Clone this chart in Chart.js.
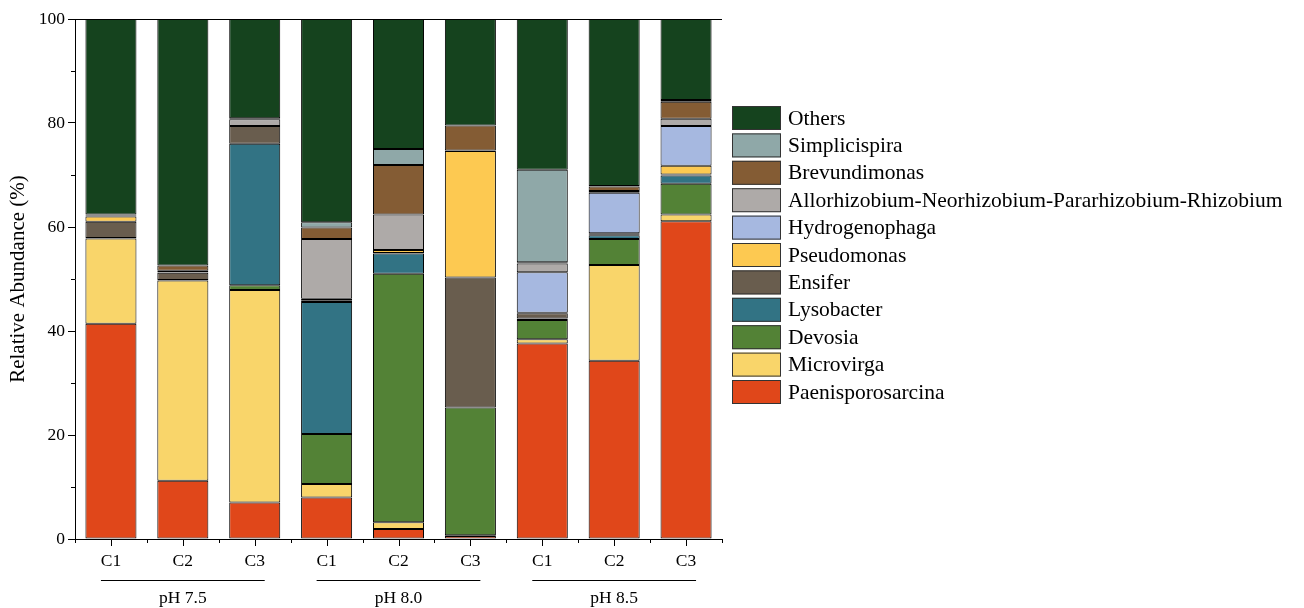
<!DOCTYPE html>
<html>
<head>
<meta charset="utf-8">
<script src="https://cdn.jsdelivr.net/npm/chart.js@4"></script>
<style>
  html, body { margin: 0; padding: 0; background: #fff; }
  #wrap { width: 1304px; height: 608px; }
</style>
</head>
<body>
<div id="wrap"><canvas id="c" width="1304" height="608"></canvas></div>
<script>
// Samples (three cultures at each pH)
const samples = ['C1', 'C2', 'C3', 'C1', 'C2', 'C3', 'C1', 'C2', 'C3'];
const groups = ['pH 7.5', 'pH 8.0', 'pH 8.5'];
const yTicks = [0, 20, 40, 60, 80, 100];

// Relative abundance (%) of each genus, stacked from the bottom up
const paenisporosarcina = [41.4, 11.2, 7.0, 8.0, 1.9, 0.6, 37.6, 34.3, 61.1];
const microvirga        = [16.4, 38.5, 40.9, 2.6, 1.3, 0.1, 0.8, 18.4, 1.3];
const devosia           = [0.1, 0.1, 0.9, 9.6, 47.8, 24.6, 3.7, 5.0, 5.9];
const lysobacter        = [0, 0, 27.2, 25.4, 3.9, 0, 0.3, 0.7, 1.6];
const ensifer           = [3.1, 1.4, 3.4, 0.2, 0.1, 25.0, 1.0, 0.1, 0.2];
const pseudomonas       = [1.0, 0.1, 0, 0.4, 0.6, 24.3, 0.1, 0.3, 1.7];
const hydrogenophaga    = [0.1, 0, 0, 0, 0, 0, 7.8, 7.8, 7.6];
const allorhizobium     = [0.1, 0.3, 1.3, 11.5, 6.8, 0.1, 1.7, 0.3, 1.4];
const brevundimonas     = [0.2, 1.0, 0.2, 2.2, 9.5, 4.8, 0.2, 0.9, 3.3];
const simplicispira     = [0, 0, 0, 1.0, 3.1, 0, 17.8, 0.1, 0.3];
const others            = [37.6, 47.4, 19.1, 39.1, 25.0, 20.5, 29.0, 32.1, 15.6];

const series = [
  { label: 'Paenisporosarcina', data: paenisporosarcina, color: '#e0471a' },
  { label: 'Microvirga', data: microvirga, color: '#f9d56a' },
  { label: 'Devosia', data: devosia, color: '#538236' },
  { label: 'Lysobacter', data: lysobacter, color: '#327384' },
  { label: 'Ensifer', data: ensifer, color: '#695d4e' },
  { label: 'Pseudomonas', data: pseudomonas, color: '#fdc951' },
  { label: 'Hydrogenophaga', data: hydrogenophaga, color: '#a6b8e0' },
  { label: 'Allorhizobium-Neorhizobium-Pararhizobium-Rhizobium', data: allorhizobium, color: '#aeaaa8' },
  { label: 'Brevundimonas', data: brevundimonas, color: '#845c34' },
  { label: 'Simplicispira', data: simplicispira, color: '#8fa8a8' },
  { label: 'Others', data: others, color: '#15431e' }
];

const FONT = "'Liberation Serif', 'Times New Roman', serif";

// Axis ticks, frame, sample-group brackets and the legend
const decorations = {
  id: 'decorations',
  afterDraw(chart) {
    const { ctx, chartArea: a, scales: { x, y } } = chart;
    ctx.save();
    ctx.strokeStyle = '#000';
    ctx.lineWidth = 1;

    // frame: top edge
    ctx.beginPath();
    ctx.moveTo(a.left, a.top + 0.5);
    ctx.lineTo(a.right, a.top + 0.5);
    ctx.stroke();

    // y minor ticks
    for (let v = 10; v < 100; v += 20) {
      const py = Math.round(y.getPixelForValue(v)) + 0.5;
      ctx.beginPath();
      ctx.moveTo(a.left - 4, py);
      ctx.lineTo(a.left, py);
      ctx.stroke();
    }

    // x ticks: major at sample centres, minor at boundaries
    const n = samples.length;
    const step = (a.right - a.left) / n;
    for (let i = 0; i < n; i++) {
      const cx = Math.round(x.getPixelForValue(i)) + 0.5;
      ctx.beginPath();
      ctx.moveTo(cx, a.bottom);
      ctx.lineTo(cx, a.bottom + 7);
      ctx.stroke();
    }
    for (let i = 0; i <= n; i++) {
      const bx = Math.round(a.left + i * step) + 0.5;
      ctx.beginPath();
      ctx.moveTo(bx, a.bottom);
      ctx.lineTo(bx, a.bottom + 4);
      ctx.stroke();
    }

    // group brackets and labels
    ctx.fillStyle = '#000';
    ctx.font = '17.5px ' + FONT;
    ctx.textAlign = 'center';
    ctx.textBaseline = 'middle';
    groups.forEach((g, gi) => {
      const x0 = x.getPixelForValue(gi * 3) - 10;
      const x1 = x.getPixelForValue(gi * 3 + 2) + 10;
      ctx.beginPath();
      ctx.moveTo(x0, 580.5);
      ctx.lineTo(x1, 580.5);
      ctx.stroke();
      ctx.fillText(g, x.getPixelForValue(gi * 3 + 1), 598);
    });

    // legend, top entry = top of stack
    const lx = 732, ly = 106, bw = 49, bh = 24, rowStep = 27.4;
    ctx.font = '21.5px ' + FONT;
    ctx.textAlign = 'left';
    const ds = chart.data.datasets.slice().reverse();
    ds.forEach((d, i) => {
      const top = ly + i * rowStep;
      ctx.fillStyle = d.backgroundColor;
      ctx.fillRect(lx, top, bw, bh);
      ctx.strokeStyle = '#333';
      ctx.strokeRect(lx + 0.5, top + 0.5, bw - 1, bh - 1);
      ctx.fillStyle = '#000';
      ctx.fillText(d.label, lx + bw + 7, top + bh / 2 + 1);
    });
    ctx.restore();
  }
};

new Chart(document.getElementById('c'), {
  type: 'bar',
  data: {
    labels: samples,
    datasets: series.map(s => ({
      label: s.label,
      data: s.data,
      backgroundColor: s.color,
      borderColor: '#000',
      borderWidth: 1,
      borderSkipped: false,
      barPercentage: 0.71,
      categoryPercentage: 1.0
    }))
  },
  options: {
    responsive: false,
    animation: false,
    devicePixelRatio: 1,
    layout: { padding: { left: 0, right: 582, top: 19, bottom: 0 } },
    plugins: { legend: { display: false }, tooltip: { enabled: false } },
    scales: {
      x: {
        stacked: true,
        grid: { display: false, drawTicks: false },
        border: { display: true, color: '#000', width: 1 },
        ticks: { color: '#000', font: { family: FONT, size: 17.5 }, padding: 12, maxRotation: 0 },
        afterFit(scale) { scale.height = 69; }
      },
      y: {
        stacked: true,
        min: 0,
        max: 100,
        afterBuildTicks(scale) { scale.ticks = yTicks.map(v => ({ value: v })); },
        grid: { drawOnChartArea: false, drawTicks: true, tickLength: 7, color: '#000' },
        border: { display: true, color: '#000', width: 1 },
        ticks: { color: '#000', font: { family: FONT, size: 17.5 }, padding: 3 },
        title: {
          display: true,
          text: 'Relative Abundance (%)',
          color: '#000',
          font: { family: FONT, size: 21 },
          padding: { top: 6, bottom: 0 }
        },
        afterFit(scale) { scale.width = 75; }
      }
    }
  },
  plugins: [decorations]
});
</script>
</body>
</html>
